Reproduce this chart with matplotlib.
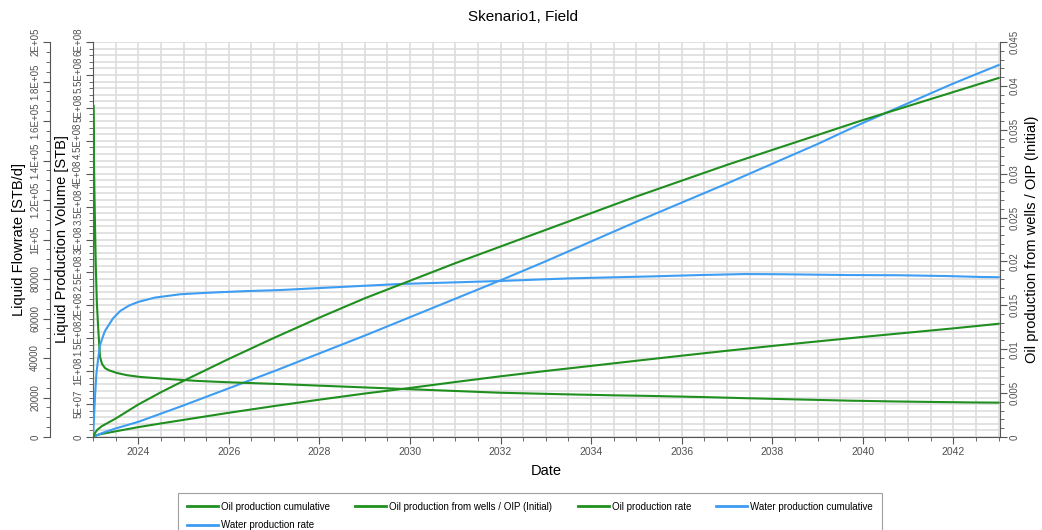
import matplotlib.pyplot as plt
from matplotlib.ticker import MultipleLocator, FuncFormatter

plt.rcParams['font.family'] = ['Liberation Sans', 'DejaVu Sans']

# --- data (time in decimal years) ---
oil_rate_t = [2023.0, 2023.007, 2023.022, 2023.037, 2023.06, 2023.085, 2023.117, 2023.155,
              2023.2, 2023.265, 2023.35, 2023.53, 2023.75, 2024.04, 2024.63, 2025.3, 2026.0,
              2027.13, 2028.0, 2029.0, 2030.0, 2031.0, 2032.0, 2033.46, 2034.5, 2035.3,
              2036.5, 2037.5, 2038.6, 2039.7, 2040.7, 2041.7, 2042.4, 2043.0]
oil_rate = [0, 168000, 138700, 116400, 88100, 68000, 54200, 40500,
            37000, 34900, 33800, 32400, 31300, 30400, 29400, 28400, 27700,
            26800, 26000, 25100, 24200, 23300, 22400, 21600, 21100, 20800,
            20200, 19600, 19000, 18400, 18000, 17700, 17500, 17400]

water_rate_t = [2023.0, 2023.02, 2023.044, 2023.075, 2023.11, 2023.155, 2023.26, 2023.44,
                2023.6, 2023.8, 2024.0, 2024.37, 2024.94, 2025.5, 2026.3, 2027.13, 2028.5,
                2029.8, 2031.0, 2032.0, 2033.5, 2035.3, 2036.4, 2037.4, 2038.2, 2039.7,
                2040.8, 2041.85, 2042.65, 2043.0]
water_rate = [0, 9000, 20300, 32000, 39000, 46600, 53500, 60000,
              63800, 66600, 68400, 70600, 72300, 73000, 73800, 74400, 76000,
              77500, 78300, 79000, 80300, 81300, 82000, 82500, 82400, 82000,
              81900, 81500, 81000, 80900]

cum_t = [2023.0, 2023.05, 2023.1, 2023.2, 2023.5, 2023.75, 2024.0, 2024.5, 2025.0, 2026.0,
         2027.0, 2028.0, 2029.0, 2030.0, 2031.0, 2032.0, 2033.0, 2034.0, 2035.0, 2036.0,
         2037.0, 2038.0, 2039.0, 2040.0, 2041.0, 2042.0, 2043.0]
oil_cum = [0, 2.0e6, 3.3e6, 4.8e6, 8.6e6, 1.18e7, 1.5e7, 2.06e7, 2.6e7, 3.68e7,
           4.7e7, 5.67e7, 6.6e7, 7.45e7, 8.35e7, 9.22e7, 1.003e8, 1.08e8, 1.158e8, 1.235e8,
           1.31e8, 1.383e8, 1.452e8, 1.52e8, 1.585e8, 1.65e8, 1.72e8]
oil_oip = [0, 0.0005, 0.00085, 0.00125, 0.0021, 0.0029, 0.0037, 0.0051, 0.0064, 0.0089,
           0.0113, 0.0136, 0.0158, 0.0178, 0.0198, 0.0217, 0.0236, 0.0255, 0.0274, 0.0292,
           0.0310, 0.0327, 0.0344, 0.0361, 0.0377, 0.0393, 0.0409]
water_cum = [0, 1.2e6, 3.0e6, 6.0e6, 1.3e7, 1.8e7, 2.3e7, 3.55e7, 4.8e7, 7.4e7,
             1.0e8, 1.27e8, 1.54e8, 1.82e8, 2.10e8, 2.38e8, 2.67e8, 2.97e8, 3.27e8, 3.56e8,
             3.85e8, 4.15e8, 4.45e8, 4.77e8, 5.07e8, 5.37e8, 5.65e8]

green = '#1f8f1f'
blue = '#3d9df2'
tick_col = '#555555'

fig = plt.figure(figsize=(10.42, 5.30), dpi=100)
ax = fig.add_axes([93/1042, 1-437/530, 907/1042, 395/530])   # volume axis
ax_rate = ax.twinx()
ax_ratio = ax.twinx()

# flowrate axis on the far left
ax_rate.yaxis.tick_left()
ax_rate.yaxis.set_label_position('left')
ax_rate.spines['left'].set_position(('axes', -43/907))
ax_rate.spines['left'].set_visible(True)
for s in ['right', 'top', 'bottom']:
    ax_rate.spines[s].set_visible(False)
for s in ['left', 'top', 'bottom']:
    ax_ratio.spines[s].set_visible(False)
ax.spines['top'].set_visible(False)
ax.spines['right'].set_visible(False)
for a in (ax, ax_rate, ax_ratio):
    for s in a.spines.values():
        s.set_color(tick_col)

l1, = ax.plot(cum_t, oil_cum, color=green, lw=1.5, label='Oil production cumulative')
l2, = ax_ratio.plot(cum_t, oil_oip, color=green, lw=1.5, label='Oil production from wells / OIP (Initial)')
l3, = ax_rate.plot(oil_rate_t, oil_rate, color=green, lw=1.5, label='Oil production rate')
l4, = ax.plot(cum_t, water_cum, color=blue, lw=1.5, label='Water production cumulative')
l5, = ax_rate.plot(water_rate_t, water_rate, color=blue, lw=1.5, label='Water production rate')

ax.set_xlim(2023.0, 2043.03)
ax.set_ylim(0, 6e8)
ax_rate.set_ylim(0, 2e5)
ax_ratio.set_ylim(0, 0.045)

ax.xaxis.set_major_locator(MultipleLocator(2))
ax.xaxis.set_minor_locator(MultipleLocator(0.5))
ax.xaxis.set_major_formatter(FuncFormatter(lambda v, p: f'{int(round(v))}'))
ax.yaxis.set_major_locator(MultipleLocator(5e7))
ax.yaxis.set_minor_locator(MultipleLocator(1e7))
ax_rate.yaxis.set_major_locator(MultipleLocator(20000))
ax_rate.yaxis.set_minor_locator(MultipleLocator(5000))
ax_ratio.yaxis.set_major_locator(MultipleLocator(0.005))
ax_ratio.yaxis.set_minor_locator(MultipleLocator(0.001))


def sci(v, p):
    if v == 0:
        return '0'
    if v < 1e5:
        return f'{int(round(v))}'
    return f'{v:.2G}'


ax.yaxis.set_major_formatter(FuncFormatter(sci))
ax_rate.yaxis.set_major_formatter(FuncFormatter(sci))
ax_ratio.yaxis.set_major_formatter(FuncFormatter(lambda v, p: '0' if v == 0 else f'{v:g}'))

ax.grid(True, which='both', axis='x', color='#dddddd', lw=1.2)
ax.grid(True, which='both', axis='y', color='#dddddd', lw=1.2)
ax.set_axisbelow(True)

for a in (ax, ax_rate, ax_ratio):
    a.tick_params(which='major', length=5, color=tick_col, labelcolor='#505050', labelsize=7)
    a.tick_params(which='minor', length=3, color=tick_col)
for a in (ax, ax_rate, ax_ratio):
    a.tick_params(axis='y', labelrotation=90, pad=2)
    for lab in a.get_yticklabels():
        lab.set_va('center')
ax.tick_params(axis='x', pad=2, labelsize=7.5)

ax.set_xlabel('Date', fontsize=10.5, labelpad=5)
ax.set_ylabel('Liquid Production Volume [STB]', fontsize=10.5, labelpad=3)
ax_rate.set_ylabel('Liquid Flowrate [STB/d]', fontsize=10.5, labelpad=3)
ax_ratio.set_ylabel('Oil production from wells / OIP (Initial)', fontsize=10.5, rotation=90, labelpad=4)
fig.text(523/1042, 1-17/530, 'Skenario1, Field', ha='center', va='center', fontsize=11)

order = [l1, l5, l2, l3, l4]
leg = fig.legend(order, [h.get_label() for h in order],
                 loc='upper center', bbox_to_anchor=(530/1042, 1-488/530), ncol=4,
                 fontsize=7, fancybox=False, edgecolor='#888888', handlelength=3.2,
                 handletextpad=0.3, columnspacing=2.6, borderpad=0.9, labelspacing=0.9)
for h in leg.get_lines():
    h.set_linewidth(2.0)
leg.get_frame().set_linewidth(0.8)

fig.savefig('out.png', dpi=100)
